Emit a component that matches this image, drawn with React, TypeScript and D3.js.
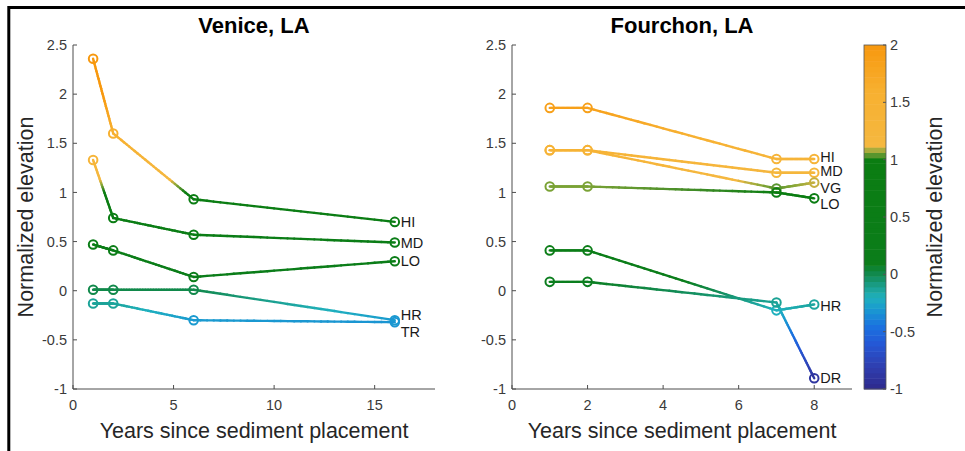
import React, { useEffect, useRef } from "react";
import * as d3 from "d3";

// Venice, LA
const veniceYears = [1, 2, 6, 16];
const veniceNames = ["HI", "MD", "LO", "HR", "TR"];
const veniceHI = [2.36, 1.6, 0.93, 0.7];
const veniceMD = [1.33, 0.74, 0.57, 0.49];
const veniceLO = [0.47, 0.41, 0.14, 0.3];
const veniceHR = [0.01, 0.01, 0.01, -0.3];
const veniceTR = [-0.13, -0.13, -0.3, -0.32];
const veniceLabelNudge = [0, 0, 0, -5, 10];

// Fourchon, LA
const fourchonYears = [1, 2, 7, 8];
const fourchonNames = ["HI", "MD", "VG", "LO", "HR", "DR"];
const fourchonHI = [1.86, 1.86, 1.34, 1.34];
const fourchonMD = [1.43, 1.43, 1.2, 1.2];
const fourchonVG = [1.43, 1.43, 1.04, 1.1];
const fourchonLO = [1.06, 1.06, 1.0, 0.94];
const fourchonHR = [0.41, 0.41, -0.2, -0.14];
const fourchonDR = [0.09, 0.09, -0.12, -0.89];
const fourchonLabelNudge = [-2, -1.5, 5, 5.5, 1, 0];

const yTicks = [-1, -0.5, 0, 0.5, 1, 1.5, 2, 2.5];
const veniceXTicks = [0, 5, 10, 15];
const fourchonXTicks = [0, 2, 4, 6, 8];
const colorbarTicks = [-1, -0.5, 0, 0.5, 1, 1.5, 2];

// colormap stops (value -> colour)
const cmapStops = [-1, -0.8, -0.6, -0.45, -0.3, -0.2, -0.1, 0, 0.1, 1.0, 1.03, 1.07, 1.1, 1.12, 1.6, 2];
const cmapColors = [
  "#2e2a8c", "#2f3fb0", "#2458d6", "#1a72e0", "#1a9ad0", "#1fb0bd", "#1a9e8a", "#128a50",
  "#0b7d1a", "#0b7d12", "#4a8f2a", "#8aa838", "#c5b040", "#f5b840", "#f7b030", "#f7980e",
];

const font = "'Liberation Sans', Arial, sans-serif";

const App = () => {
  const ref = useRef(null);

  useEffect(() => {
    const svg = d3.select(ref.current);
    svg.selectAll("*").remove();

    const cmap = d3
      .scaleLinear()
      .domain(cmapStops)
      .range(cmapColors)
      .clamp(true);

    // frame (only top and left edges show in the crop)
    svg.append("line").attr("x1", 8.8).attr("x2", 965).attr("y1", 7.5).attr("y2", 7.5)
      .attr("stroke", "#000").attr("stroke-width", 3);
    svg.append("line").attr("x1", 8.8).attr("x2", 8.8).attr("y1", 6).attr("y2", 451)
      .attr("stroke", "#000").attr("stroke-width", 3);

    const y = d3.scaleLinear().domain([-1, 2.5]).range([389, 45]);

    const drawPanel = (opts) => {
      const { title, left, right, xMax, xTicks, years, names, series, nudge } = opts;
      const x = d3.scaleLinear().domain([0, xMax]).range([left, right]);
      const g = svg.append("g");

      // axes
      const axis = g.append("g").attr("stroke", "#4d4d4d").attr("stroke-width", 1);
      axis.append("line").attr("x1", left).attr("x2", left).attr("y1", y(2.5)).attr("y2", y(-1));
      axis.append("line").attr("x1", left).attr("x2", right).attr("y1", y(-1)).attr("y2", y(-1));
      yTicks.forEach((t) => {
        axis.append("line").attr("x1", left).attr("x2", left + 4).attr("y1", y(t)).attr("y2", y(t));
      });
      xTicks.forEach((t) => {
        axis.append("line").attr("x1", x(t)).attr("x2", x(t)).attr("y1", y(-1)).attr("y2", y(-1) - 4);
      });

      g.selectAll(".yt")
        .data(yTicks)
        .enter()
        .append("text")
        .attr("x", left - 6)
        .attr("y", (d) => y(d))
        .attr("dy", "0.35em")
        .attr("text-anchor", "end")
        .attr("font-family", font)
        .attr("font-size", 14.5)
        .attr("fill", "#3a3a3a")
        .text((d) => d);

      g.selectAll(".xt")
        .data(xTicks)
        .enter()
        .append("text")
        .attr("x", (d) => x(d))
        .attr("y", y(-1) + 21)
        .attr("text-anchor", "middle")
        .attr("font-family", font)
        .attr("font-size", 14.5)
        .attr("fill", "#3a3a3a")
        .text((d) => d);

      g.append("text")
        .attr("x", (left + right) / 2)
        .attr("y", 33)
        .attr("text-anchor", "middle")
        .attr("font-family", font)
        .attr("font-weight", "bold")
        .attr("font-size", 22)
        .attr("fill", "#000")
        .text(title);

      g.append("text")
        .attr("x", (left + right) / 2)
        .attr("y", 438)
        .attr("text-anchor", "middle")
        .attr("font-family", font)
        .attr("font-size", 21.5)
        .attr("fill", "#262626")
        .text("Years since sediment placement");

      // lines coloured by value
      const steps = 30;
      series.forEach((vals, si) => {
        for (let i = 0; i < vals.length - 1; i++) {
          for (let k = 0; k < steps; k++) {
            const t0 = k / steps;
            const t1 = (k + 1) / steps;
            const xa = years[i] + (years[i + 1] - years[i]) * t0;
            const xb = years[i] + (years[i + 1] - years[i]) * t1;
            const ya = vals[i] + (vals[i + 1] - vals[i]) * t0;
            const yb = vals[i] + (vals[i + 1] - vals[i]) * t1;
            g.append("line")
              .attr("x1", x(xa))
              .attr("y1", y(ya))
              .attr("x2", x(xb))
              .attr("y2", y(yb))
              .attr("stroke", cmap((ya + yb) / 2))
              .attr("stroke-width", 2.4)
              .attr("stroke-linecap", "round");
          }
        }
        g.selectAll(null)
          .data(vals)
          .enter()
          .append("circle")
          .attr("cx", (d, i) => x(years[i]))
          .attr("cy", (d) => y(d))
          .attr("r", 4.3)
          .attr("fill", "none")
          .attr("stroke", (d) => cmap(d))
          .attr("stroke-width", 2);

        const last = vals[vals.length - 1];
        g.append("text")
          .attr("x", x(years[years.length - 1]) + 6)
          .attr("y", y(last) + nudge[si])
          .attr("dy", "0.36em")
          .attr("font-family", font)
          .attr("font-size", 14.5)
          .attr("fill", "#1a1a1a")
          .text(names[si]);
      });
    };

    drawPanel({
      title: "Venice, LA",
      left: 73,
      right: 435,
      xMax: 18,
      xTicks: veniceXTicks,
      years: veniceYears,
      names: veniceNames,
      series: [veniceHI, veniceMD, veniceLO, veniceHR, veniceTR],
      nudge: veniceLabelNudge,
    });

    drawPanel({
      title: "Fourchon, LA",
      left: 512,
      right: 852,
      xMax: 9,
      xTicks: fourchonXTicks,
      years: fourchonYears,
      names: fourchonNames,
      series: [fourchonHI, fourchonMD, fourchonVG, fourchonLO, fourchonHR, fourchonDR],
      nudge: fourchonLabelNudge,
    });

    // shared y label
    svg.append("text")
      .attr("transform", `translate(33,217) rotate(-90)`)
      .attr("text-anchor", "middle")
      .attr("font-family", font)
      .attr("font-size", 21.5)
      .attr("fill", "#262626")
      .text("Normalized elevation");

    // colorbar
    const cb = d3.scaleLinear().domain([-1, 2]).range([389, 45]);
    const cbX = 864;
    const cbW = 22;
    const levels = d3.range(64).map((i) => -1 + (i * 3) / 64);
    svg.append("g")
      .selectAll("rect")
      .data(levels)
      .enter()
      .append("rect")
      .attr("x", cbX)
      .attr("width", cbW)
      .attr("y", (d) => cb(d + 3 / 64))
      .attr("height", cb(-1) - cb(-1 + 3 / 64) + 0.5)
      .attr("fill", (d) => cmap(d + 1.5 / 64));
    svg.append("rect")
      .attr("x", cbX)
      .attr("y", cb(2))
      .attr("width", cbW)
      .attr("height", cb(-1) - cb(2))
      .attr("fill", "none")
      .attr("stroke", "#555")
      .attr("stroke-width", 0.8);
    colorbarTicks.forEach((t) => {
      svg.append("line")
        .attr("x1", cbX + cbW)
        .attr("x2", cbX + cbW - 3)
        .attr("y1", cb(t))
        .attr("y2", cb(t))
        .attr("stroke", "#555");
      svg.append("text")
        .attr("x", cbX + cbW + 4)
        .attr("y", cb(t))
        .attr("dy", "0.35em")
        .attr("font-family", font)
        .attr("font-size", 14.5)
        .attr("fill", "#3a3a3a")
        .text(t);
    });
    svg.append("text")
      .attr("transform", `translate(942,217) rotate(-90)`)
      .attr("text-anchor", "middle")
      .attr("font-family", font)
      .attr("font-size", 21.5)
      .attr("fill", "#262626")
      .text("Normalized elevation");
  }, []);

  return (
    <svg
      ref={ref}
      width={965}
      height={451}
      style={{ position: "absolute", left: 0, top: 0, background: "#fff" }}
    ></svg>
  );
};

export default App;
